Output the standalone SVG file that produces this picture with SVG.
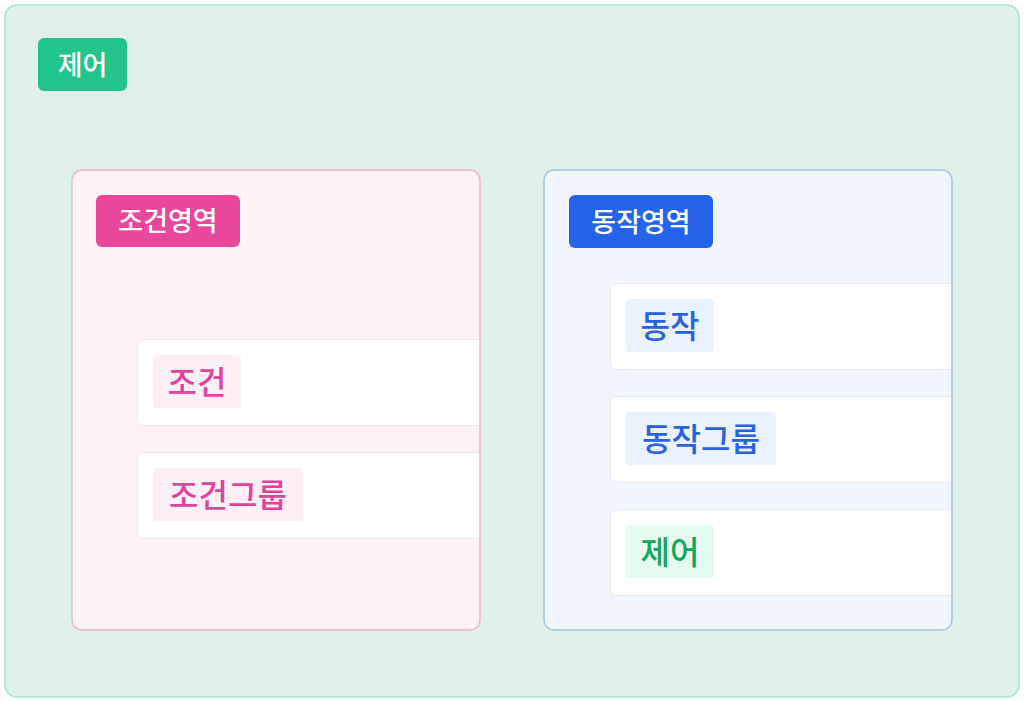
<svg xmlns="http://www.w3.org/2000/svg" width="1024" height="702" viewBox="0 0 1024 702">
<style>
.t{font-family:"Noto Sans CJK KR","Noto Sans",sans-serif;font-weight:500}
.badge{font-size:27px;fill:#ffffff}
.tag{font-size:32px}
.card{fill:#ffffff;stroke:#ebe9ee;stroke-width:1}
.pinkT{fill:#e0449a}
.blueT{fill:#2a62dc}
.greenT{fill:#18a65e}
</style>
<defs>
<clipPath id="clipL"><rect x="72" y="170" width="408" height="460" rx="10"/></clipPath>
<clipPath id="clipR"><rect x="544" y="170" width="408" height="460" rx="10"/></clipPath>
</defs>
<rect width="1024" height="702" fill="#ffffff"/>
<g id="control-root">
<rect x="5" y="5" width="1014" height="692" rx="12" fill="#dff0e8" stroke="#a8e2c8" stroke-width="1.5"/>
<rect x="38" y="38" width="89" height="53" rx="6" fill="#22c48d"/>
<text class="t badge" x="82.5" y="74.5" text-anchor="middle">제어</text>
</g>
<g id="condition-area">
<rect x="72" y="170" width="408" height="460" rx="10" fill="#fdf2f8"/>
<g clip-path="url(#clipL)">
<g id="node-condition">
<rect class="card" x="137.5" y="339.5" width="400" height="86" rx="6"/>
<rect x="153" y="355" width="88" height="53" rx="4" fill="#fdeff6"/>
<text class="t tag pinkT" x="197" y="394" text-anchor="middle">조건</text>
</g>
<g id="node-condition-group">
<rect class="card" x="137.5" y="452.5" width="400" height="86" rx="6"/>
<rect x="153" y="468" width="150" height="53" rx="4" fill="#fdeff6"/>
<text class="t tag pinkT" x="228" y="507" text-anchor="middle">조건그룹</text>
</g>
</g>
<rect x="72" y="170" width="408" height="460" rx="10" fill="none" stroke="#f2b5cf" stroke-width="1.5"/>
<rect x="96" y="195" width="144" height="52" rx="6" fill="#e9489a"/>
<text class="t badge" x="168" y="231" text-anchor="middle">조건영역</text>
</g>
<g id="action-area">
<rect x="544" y="170" width="408" height="460" rx="10" fill="#f0f5fe"/>
<g clip-path="url(#clipR)">
<g id="node-action">
<rect class="card" x="610.5" y="283.5" width="400" height="86" rx="6"/>
<rect x="626" y="299" width="88" height="53" rx="4" fill="#eaf2fe"/>
<text class="t tag blueT" x="670" y="338" text-anchor="middle">동작</text>
</g>
<g id="node-action-group">
<rect class="card" x="610.5" y="396.5" width="400" height="86" rx="6"/>
<rect x="626" y="412" width="150" height="53" rx="4" fill="#eaf2fe"/>
<text class="t tag blueT" x="701" y="451" text-anchor="middle">동작그룹</text>
</g>
<g id="node-control">
<rect class="card" x="610.5" y="509.5" width="400" height="86" rx="6"/>
<rect x="626" y="525" width="88" height="53" rx="4" fill="#e6fbef"/>
<text class="t tag greenT" x="670" y="564" text-anchor="middle">제어</text>
</g>
</g>
<rect x="544" y="170" width="408" height="460" rx="10" fill="none" stroke="#a9c1ee" stroke-width="1.5"/>
<rect x="569" y="195" width="144" height="53" rx="6" fill="#2563eb"/>
<text class="t badge" x="641" y="231.5" text-anchor="middle">동작영역</text>
</g>
<g id="connectors"></g>
</svg>
